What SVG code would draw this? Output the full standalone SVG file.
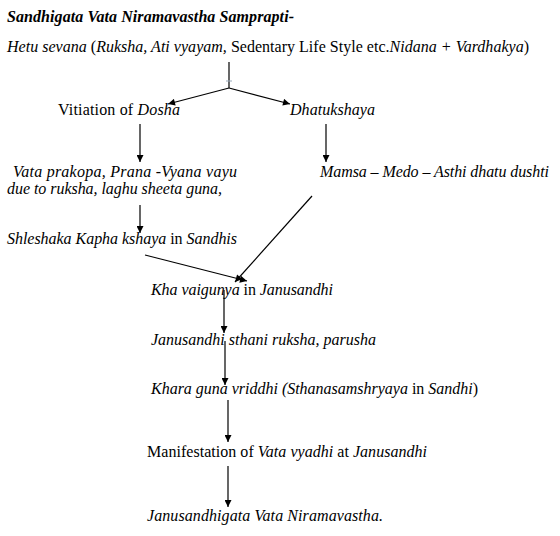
<svg xmlns="http://www.w3.org/2000/svg" width="560" height="536" viewBox="0 0 560 536">
<defs>
<style>
text{font-family:"Liberation Serif",serif;font-size:16px;fill:#000}
.i{font-style:italic}
.t{font-weight:bold;font-style:italic}
.c{stroke:#000;stroke-width:1.2;fill:none}
</style>
<marker id="ah" viewBox="0 0 10 10" refX="10" refY="5" markerWidth="8" markerHeight="7" markerUnits="userSpaceOnUse" orient="auto">
<path d="M0,0 L10,5 L0,10 z" fill="#000"/>
</marker>
</defs>
<rect width="560" height="536" fill="#fff"/>
<g id="title"><text x="7" y="22" class="t" textLength="287" lengthAdjust="spacing">Sandhigata Vata Niramavastha Samprapti-</text></g>
<g id="hetu"><text x="7" y="52" textLength="522" lengthAdjust="spacing"><tspan class="i">Hetu sevana</tspan> (<tspan class="i">Ruksha, Ati vyayam,</tspan> Sedentary Life Style etc.<tspan class="i">Nidana + Vardhakya</tspan>)</text></g>
<g id="vitiation"><text x="58" y="115" textLength="122" lengthAdjust="spacing">Vitiation of <tspan class="i">Dosha</tspan></text></g>
<g id="dhatukshaya"><text x="290" y="115" class="i" textLength="85" lengthAdjust="spacing">Dhatukshaya</text></g>
<g id="vataprakopa"><text x="13" y="177" class="i" textLength="224" lengthAdjust="spacing">Vata prakopa, Prana -Vyana vayu</text><text x="7" y="194" class="i" textLength="215" lengthAdjust="spacing">due to ruksha, laghu sheeta guna,</text></g>
<g id="mamsa"><text x="320" y="177" class="i" textLength="229" lengthAdjust="spacing">Mamsa – Medo – Asthi dhatu dushti</text></g>
<g id="shleshaka"><text x="7" y="244" textLength="230" lengthAdjust="spacing"><tspan class="i">Shleshaka Kapha kshaya</tspan> in <tspan class="i">Sandhis</tspan></text></g>
<g id="kha"><text x="151" y="295" textLength="182" lengthAdjust="spacing"><tspan class="i">Kha vaigunya</tspan> in <tspan class="i">Janusandhi</tspan></text></g>
<g id="janusthani"><text x="151" y="345" class="i" textLength="225" lengthAdjust="spacing">Janusandhi sthani ruksha, parusha</text></g>
<g id="khara"><text x="151" y="394" textLength="327" lengthAdjust="spacing"><tspan class="i">Khara guna vriddhi (Sthanasamshryaya</tspan> in <tspan class="i">Sandhi</tspan>)</text></g>
<g id="manifest"><text x="147" y="457" textLength="280" lengthAdjust="spacing">Manifestation of <tspan class="i">Vata vyadhi</tspan> at <tspan class="i">Janusandhi</tspan></text></g>
<g id="final"><text x="147" y="521" class="i" textLength="236" lengthAdjust="spacing">Janusandhigata Vata Niramavastha.</text></g>
<g id="connectors">
<path class="c" d="M229,62 L229,88"/>
<path d="M226,81 L232,81" stroke="#9ab" stroke-width="1"/>
<path class="c" d="M229,88 L168,104" marker-end="url(#ah)"/>
<path class="c" d="M229,88 L290,104" marker-end="url(#ah)"/>
<path class="c" d="M140,124 L140,162" marker-end="url(#ah)"/>
<path class="c" d="M326,124 L326,162" marker-end="url(#ah)"/>
<path class="c" d="M140,205 L140,233" marker-end="url(#ah)"/>
<path class="c" d="M145,255 L247,281" marker-end="url(#ah)"/>
<path class="c" d="M312,196 L235,282" marker-end="url(#ah)"/>
<path class="c" d="M224,290 L224,333" marker-end="url(#ah)"/>
<path class="c" d="M225,341 L225,385" marker-end="url(#ah)"/>
<path class="c" d="M228,400 L228,442" marker-end="url(#ah)"/>
<path class="c" d="M228,466 L228,507" marker-end="url(#ah)"/>
</g>
</svg>
